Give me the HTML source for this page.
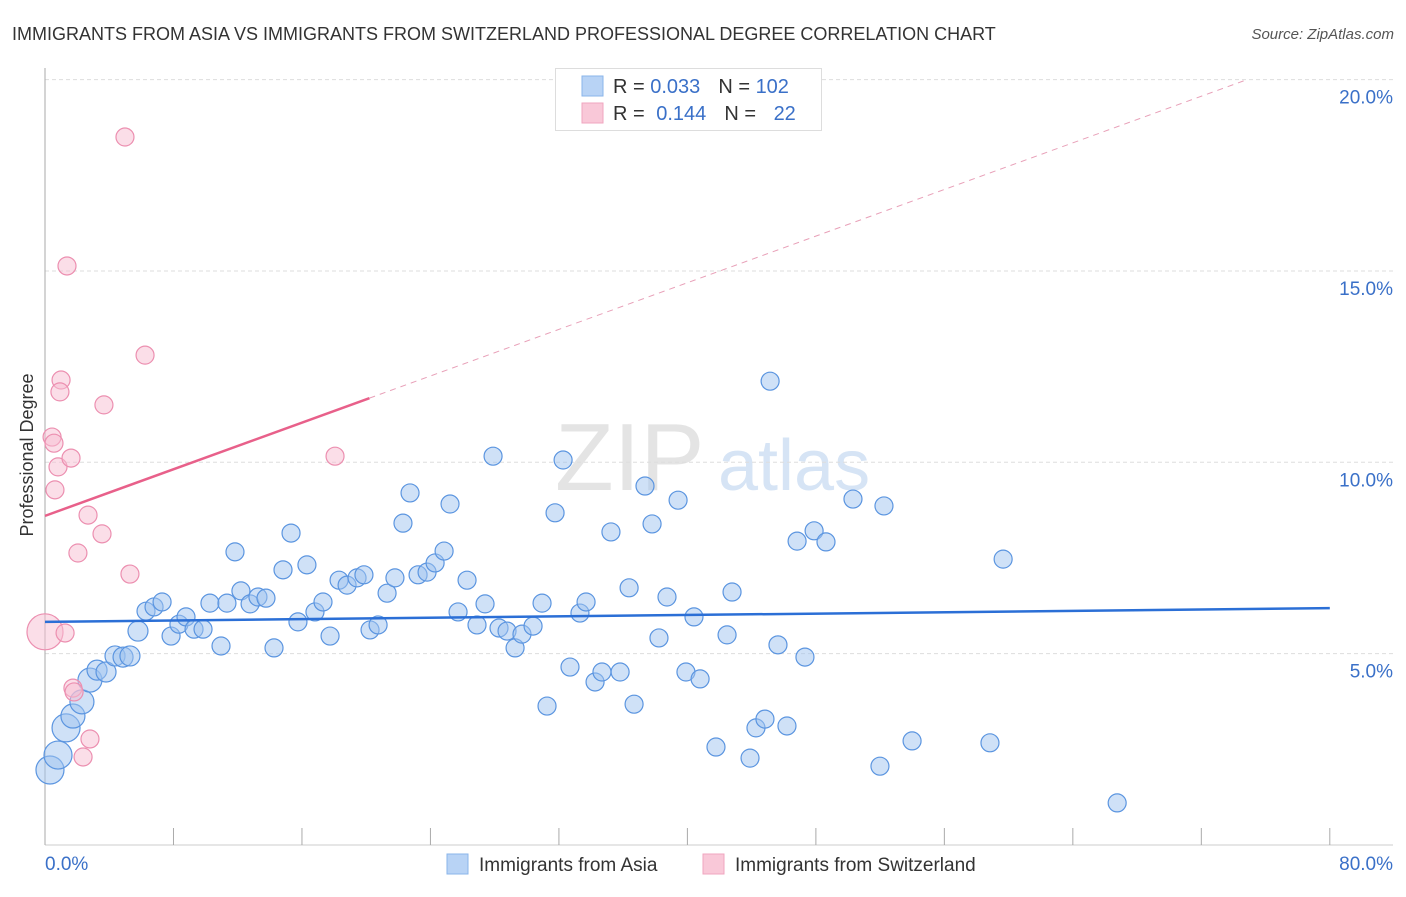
<!DOCTYPE html>
<html><head><meta charset="utf-8"><style>
body{margin:0;background:#fff;font-family:"Liberation Sans",sans-serif;}
svg text{font-family:"Liberation Sans",sans-serif;}
</style></head><body>
<svg id="chart" width="1406" height="892">
<text x="12" y="40" font-size="18" fill="#333">IMMIGRANTS FROM ASIA VS IMMIGRANTS FROM SWITZERLAND PROFESSIONAL DEGREE CORRELATION CHART</text>
<text x="1394" y="39" font-size="15" fill="#555" font-style="italic" text-anchor="end">Source: ZipAtlas.com</text>
<text transform="translate(33,455) rotate(-90)" font-size="18" fill="#333" text-anchor="middle">Professional Degree</text>
<g>
<text x="555" y="490" font-size="96" fill="#e4e4e4" font-family="Liberation Serif">ZIP</text>
<text x="718" y="490" font-size="72" fill="#d6e4f5">atlas</text>
</g>
<g id="grid"></g><g id="axes"></g><g id="pts"></g><g id="lines"></g>
<g>
<rect x="555.5" y="68.5" width="266" height="62" fill="#fff" stroke="#ddd"/>
<rect x="582" y="76" width="21" height="20" fill="#b8d3f5" stroke="#8ab4ea"/>
<rect x="582" y="103" width="21" height="20" fill="#f9c8d8" stroke="#f0a6bf"/>
<text x="613" y="93" font-size="20" fill="#333">R = <tspan fill="#3a70c8">0.033</tspan><tspan dx="18">N = </tspan><tspan fill="#3a70c8">102</tspan></text>
<text x="613" y="120" font-size="20" fill="#333">R = <tspan fill="#3a70c8" dx="6">0.144</tspan><tspan dx="18">N = </tspan><tspan fill="#3a70c8" dx="12">22</tspan></text>
</g>
<g>
<rect x="447" y="854" width="21" height="20" fill="#b8d3f5" stroke="#8ab4ea"/>
<text x="479" y="871" font-size="19" fill="#333">Immigrants from Asia</text>
<rect x="703" y="854" width="21" height="20" fill="#f9c8d8" stroke="#f0a6bf"/>
<text x="735" y="871" font-size="19" fill="#333">Immigrants from Switzerland</text>
</g>
</svg>
<script>
const asiaX=[.31,.81,1.31,1.74,2.30,2.80,3.24,3.80,4.36,4.86,5.29,5.79,6.29,6.79,7.29,7.85,8.34,8.78,9.28,9.84,10.27,10.96,11.33,11.83,12.20,12.77,13.26,13.76,14.26,14.82,15.32,15.75,16.31,16.81,17.31,17.75,18.31,18.81,19.43,19.86,20.24,20.74,21.30,21.79,22.29,22.73,23.23,23.79,24.29,24.85,25.22,25.72,26.28,26.90,27.40,27.90,28.27,28.77,29.27,29.70,30.39,30.95,31.26,31.76,32.26,32.69,33.31,33.69,34.25,34.68,35.24,35.81,36.37,36.68,37.36,37.80,38.23,38.73,39.42,39.91,40.41,40.79,41.78,42.47,42.78,43.90,44.27,44.83,45.15,45.64,46.20,46.83,47.32,47.89,48.63,50.31,51.99,52.24,53.99,58.84,59.66,66.76];
const asiaY=[1.96,2.35,3.06,3.37,3.74,4.31,4.57,4.52,4.94,4.91,4.94,5.59,6.11,6.22,6.35,5.46,5.77,5.96,5.64,5.64,6.32,5.20,6.32,7.66,6.64,6.30,6.48,6.45,5.15,7.19,8.15,5.83,7.32,6.09,6.35,5.46,6.92,6.79,6.98,7.06,5.62,5.75,6.58,6.98,8.41,9.20,7.06,7.13,7.37,7.68,8.91,6.09,6.92,5.75,6.30,10.16,5.67,5.59,5.15,5.51,5.72,6.32,3.63,8.68,10.06,4.65,6.06,6.35,4.26,4.52,8.18,4.52,6.72,3.68,9.38,8.39,5.41,6.48,9.01,4.52,5.96,4.34,2.56,5.49,6.61,2.27,3.06,3.29,12.12,5.23,3.11,7.94,4.91,8.21,7.92,9.04,2.06,8.86,2.72,2.67,7.47,1.10];
const swissX=[0,.44,.56,.81,.62,1.0,.93,1.25,1.37,1.62,1.74,1.81,2.05,2.37,2.68,2.80,3.55,3.67,4.98,5.29,6.23,18.06];
const swissY=[5.57,10.66,10.50,9.88,9.28,12.15,11.84,5.54,15.13,10.11,4.10,4.00,7.63,2.30,8.62,2.77,8.13,11.50,18.50,7.08,12.80,10.16];
const asiaTrend=[5.83,6.19];
const swissTrend=[8.60,0.1523];
const yTicks=[5,10,15,20];
const xTickLabels=["0.0%","80.0%"];
const NS="http://www.w3.org/2000/svg";
const X=v=>45+v*16.06, Y=v=>845-v*38.27;
function mk(tag,attrs,parent){const e=document.createElementNS(NS,tag);for(const k in attrs)e.setAttribute(k,attrs[k]);document.getElementById(parent).appendChild(e);return e;}
yTicks.forEach(t=>{
 const l=mk('line',{x1:45,x2:1393,y1:Y(t),y2:Y(t),stroke:'#ddd','stroke-dasharray':'4,3'},'grid');
 
 
 const tx=mk('text',{x:1393,y:Y(t)+24,'text-anchor':'end','font-size':19,fill:'#3a70c8'},'grid');
 tx.textContent=t.toFixed(1)+'%';
 
 
});
const ax=mk('line',{x1:45,x2:45,y1:68,y2:845,stroke:'#aaa'},'axes');


const bx=mk('line',{x1:45,x2:1393,y1:845,y2:845,stroke:'#ccc'},'axes');


for(let i=0;i<=10;i++){
 const t=mk('line',{x1:X(i*8),x2:X(i*8),y1:828,y2:845,stroke:'#aaa'},'axes');
 
 
}
const xl0=mk('text',{x:45,y:870,'font-size':19,fill:'#3a70c8'},'axes');xl0.textContent=xTickLabels[0];


const xl1=mk('text',{x:1393,y:870,'font-size':19,fill:'#3a70c8','text-anchor':'end'},'axes');xl1.textContent=xTickLabels[1];


asiaX.forEach((x,i)=>{
 const r=x<1.5?14:x<3?12:x<6?10:9;
 const c=mk('circle',{cx:X(x),cy:Y(asiaY[i]),r:r,fill:'rgba(160,196,240,0.5)',stroke:'#5b95e0','stroke-width':1.2},'pts');
 
 
});
swissX.forEach((x,i)=>{
 const r=i==0?18:9;
 const c=mk('circle',{cx:X(x),cy:Y(swissY[i]),r:r,fill:'rgba(248,190,210,0.5)',stroke:'#ec8fb0','stroke-width':1.2},'pts');
 
 
});
const bl=mk('line',{x1:X(0),y1:Y(asiaTrend[0]),x2:X(80),y2:Y(asiaTrend[1]),stroke:'#2b6fd6','stroke-width':2.5},'lines');


const sEnd=20.2;
const pl=mk('line',{x1:X(0),y1:Y(swissTrend[0]),x2:X(sEnd),y2:Y(swissTrend[0]+swissTrend[1]*sEnd),stroke:'#e8608a','stroke-width':2.5},'lines');


const xe=74.7;
const pd=mk('line',{x1:X(sEnd),y1:Y(swissTrend[0]+swissTrend[1]*sEnd),x2:X(xe),y2:Y(swissTrend[0]+swissTrend[1]*xe),stroke:'#e8a0b8','stroke-width':1,'stroke-dasharray':'6,5'},'lines');


</script>
</body></html>
